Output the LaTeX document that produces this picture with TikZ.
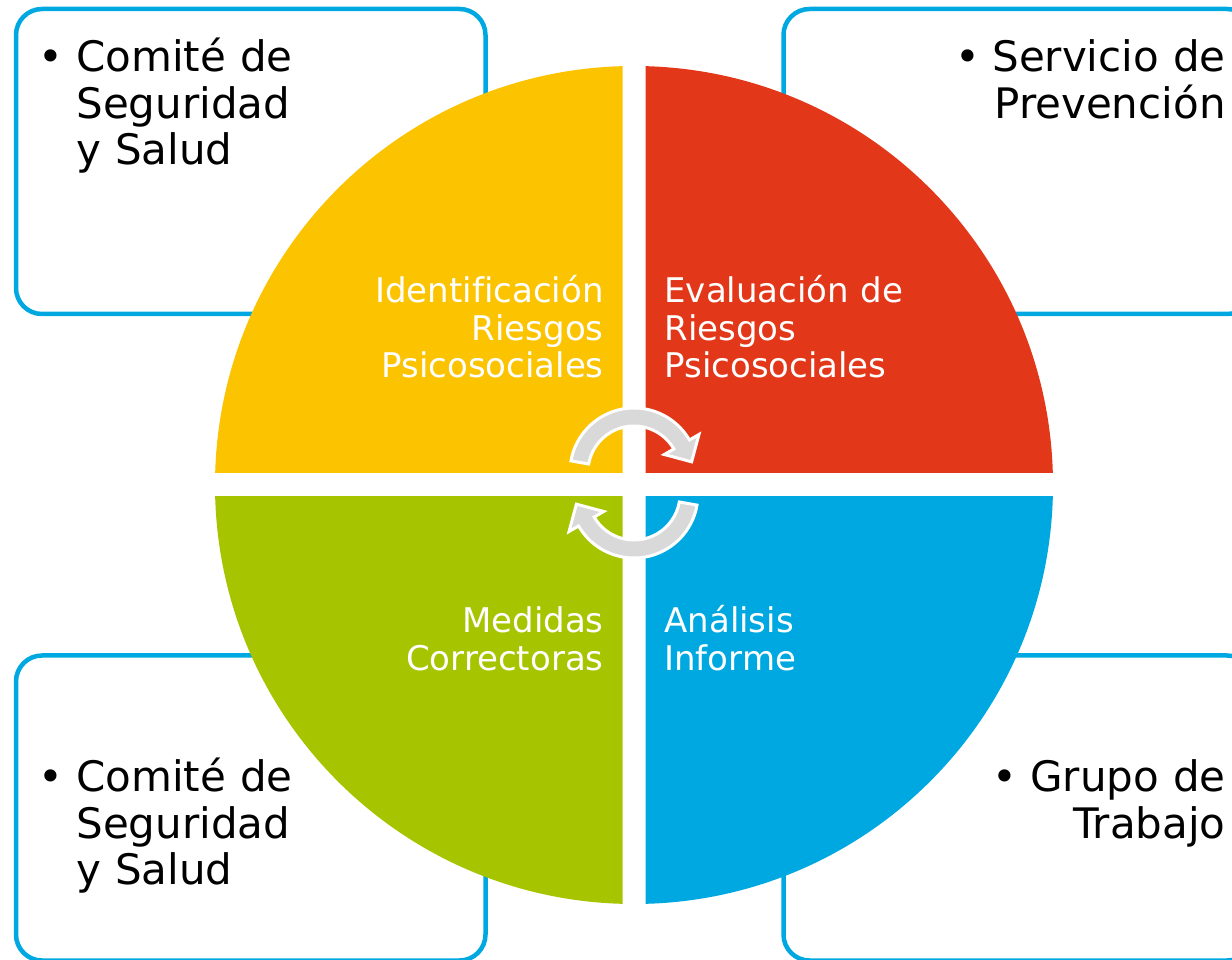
\documentclass[tikz,border=0pt]{standalone}
\usepackage{fontspec}
\setmainfont[Ligatures=CommonOff]{DejaVu Sans}
\definecolor{qyellow}{HTML}{FBC300}
\definecolor{qred}{HTML}{E3371A}
\definecolor{qgreen}{HTML}{A7C400}
\definecolor{qblue}{HTML}{00A8E1}
\definecolor{arrowgray}{HTML}{D9D9D9}
\begin{document}
\begin{tikzpicture}[x=0.5pt,y=0.5pt,
    info box/.style={draw=qblue,line width=2.25pt,rounded corners=13pt,minimum width=234.75pt,minimum height=152.5pt,inner sep=0},
    box text/.style={inner sep=0,text width=150pt,font=\fontsize{21pt}{23.25pt}\selectfont},
    quad text/.style={inner sep=0,text width=130pt,text=white,font=\fontsize{17pt}{18.75pt}\selectfont},
    cycle arrow/.style={fill=arrowgray,draw=white,line width=1.5pt}]
                \useasboundingbox (0,0) rectangle (1232,959);
                \clip (0,0) rectangle (1232,959);

                % frames behind the wheel
                \node[info box] at (250.75, 797.5) (tl) {};
                \node[info box] at (1018.25, 797.5) (tr) {};
                \node[info box] at (250.75, 151) (bl) {};
                \node[info box] at (1018.25, 151) (br) {};

                % the four quarters
                \foreach \sx/\sy/\col in {1/1/qred, -1/1/qyellow, -1/-1/qgreen, 1/-1/qblue} {
                    \begin{scope}
                        \clip ({634+\sx*11.5}, {474+\sy*12}) rectangle ++({\sx*440}, {\sy*440});
                        \fill[\col] (634, 474) circle[radius=419];
                    \end{scope}
                }

                % turning arrows
                \filldraw[cycle arrow, shift={(634,487)}] (170:46) -- (170:64) arc[start angle=170, end angle=30, radius=64]
                    -- (30:75) -- (10:58.5) -- (30:35) -- (30:46) arc[start angle=30, end angle=170, radius=46] -- cycle;
                \filldraw[cycle arrow, shift={(634,465)}, rotate=180] (170:46) -- (170:64) arc[start angle=170, end angle=30, radius=64]
                    -- (30:75) -- (10:58.5) -- (30:35) -- (30:46) arc[start angle=30, end angle=170, radius=46] -- cycle;

                \node[quad text, align=right, anchor=base east] at (604, 656) (ident) {Identificación\\Riesgos\\Psicosociales};
                \node[quad text, align=left, anchor=base west] at (664, 656) (eval) {Evaluación de\\Riesgos\\Psicosociales};
                \node[quad text, align=right, anchor=base east] at (604, 326) (medidas) {Medidas\\Correctoras};
                \node[quad text, align=left, anchor=base west] at (664, 326) (analisis) {Análisis\\Informe};

                \node[box text, align=left, anchor=base west] at (76, 887) (comiteTop) {\llap{•\hspace{6.8pt}}Comité de\\Seguridad\\y Salud};
                \node[box text, align=right, anchor=base east] at (1226, 887) (servicio) {•\hspace{6pt}Servicio de\\Prevención};
                \node[box text, align=left, anchor=base west] at (76, 167) (comiteBot) {\llap{•\hspace{6.8pt}}Comité de\\Seguridad\\y Salud};
                \node[box text, align=right, anchor=base east] at (1226, 167) (grupo) {•\hspace{6.5pt}Grupo de\\Trabajo};
            \end{tikzpicture}
\end{document}
